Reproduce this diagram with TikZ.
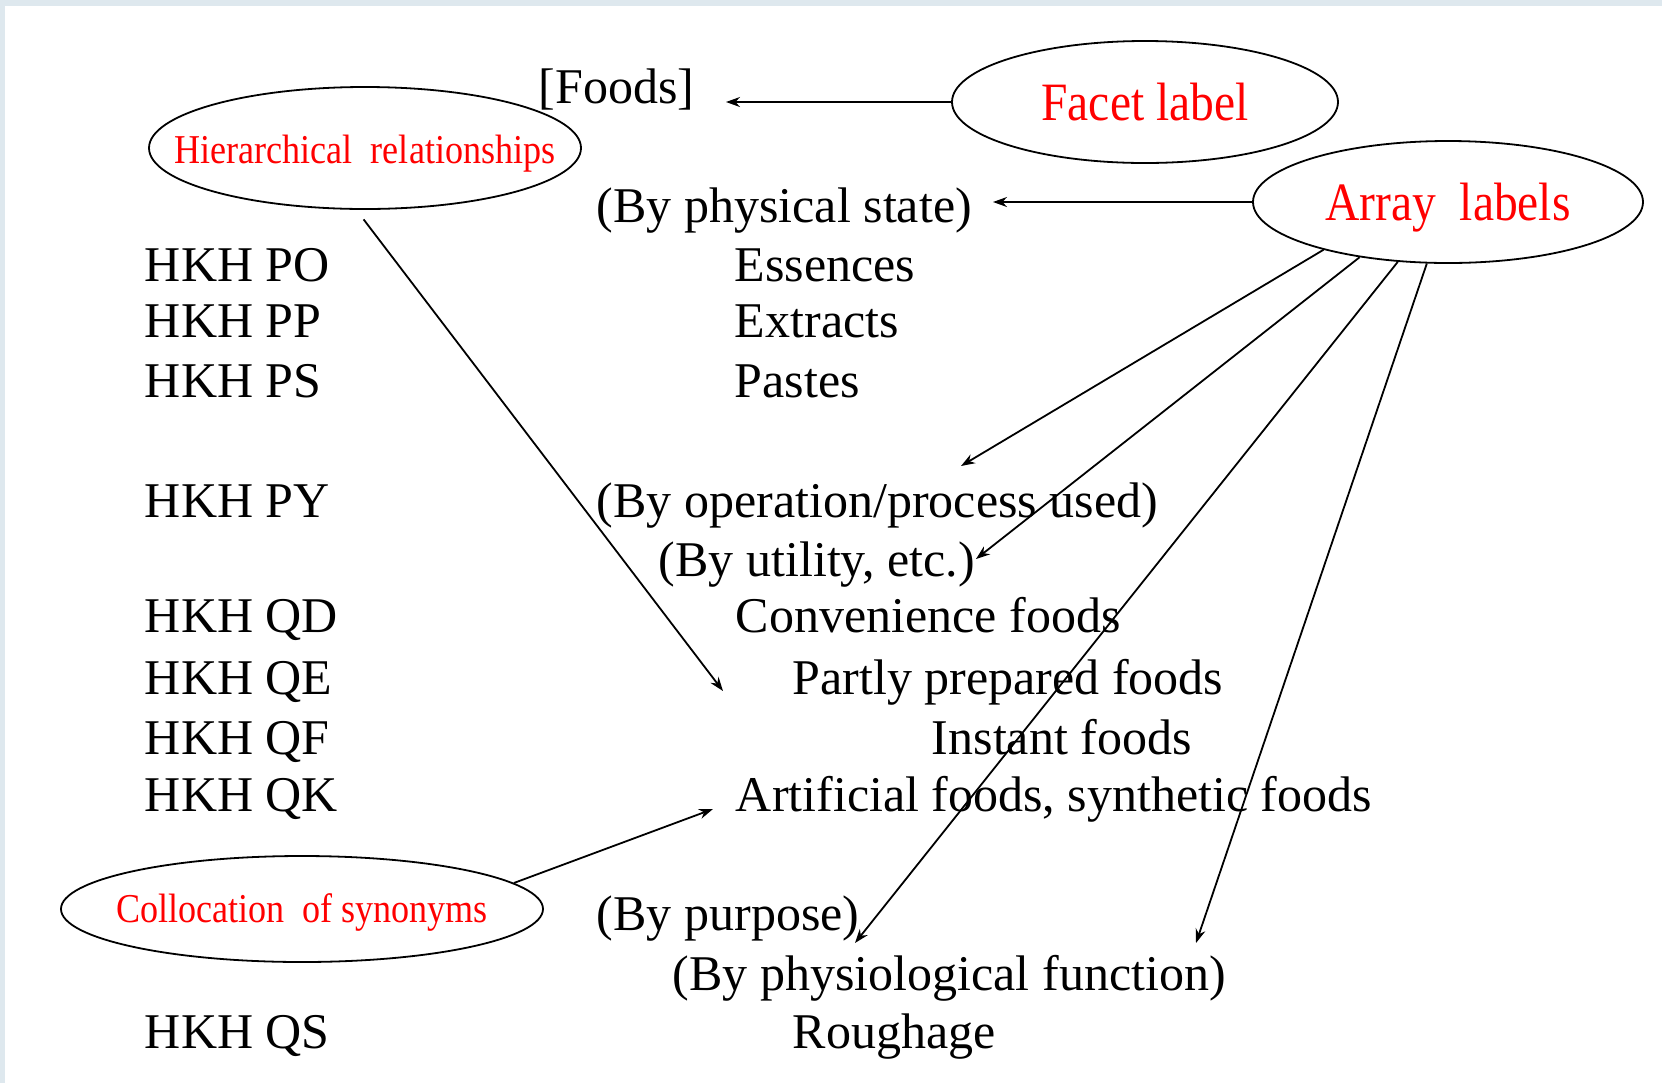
\documentclass[tikz,border=0pt]{standalone}
\usepackage{fontspec}
\setmainfont{Liberation Serif}
\newfontfamily\narrowserif[FakeStretch=0.88]{Liberation Serif}
\usetikzlibrary{shapes.geometric,arrows.meta}
\definecolor{framegray}{RGB}{222,232,238}

\begin{document}
\begin{tikzpicture}[x=0.5pt, y=-0.5pt, line width=0.9pt,
  txt/.style={anchor=base west, inner sep=0pt, font=\fontsize{25}{30}\selectfont},
  tag/.style={draw, ellipse, inner sep=0pt},
  lbl/.style={text=red, inner sep=0pt},
  arr/.style={-{Stealth[length=7pt, width=5pt]}}]
\useasboundingbox (0, 0) rectangle (1662, 1083);
\fill[framegray] (0, 0) rectangle (1662, 1083);
\fill[white] (5, 6) rectangle (1662, 1083);
%Labels
\node[tag, minimum width=193pt, minimum height=61pt, label={[lbl, font=\narrowserif\fontsize{27}{30}\selectfont]center:Facet label}] (facet) at (1145, 102) {};
\node[tag, minimum width=195pt, minimum height=61pt, label={[lbl, yshift=-3pt, font=\narrowserif\fontsize{27}{30}\selectfont]center:Array~ labels}] (array) at (1448, 202) {};
\node[tag, minimum width=216pt, minimum height=61pt, label={[lbl, yshift=-3pt, font=\narrowserif\fontsize{20.5}{24}\selectfont]center:Hierarchical~ relationships}] (hier) at (365, 148) {};
\node[tag, minimum width=241pt, minimum height=53pt, label={[lbl, yshift=-1.5pt, font=\narrowserif\fontsize{20.5}{24}\selectfont]center:Collocation~ of synonyms}] (colloc) at (302, 909) {};
%Notation
\node[txt] (po) at (144, 281) {HKH PO};
\node[txt] (pp) at (144, 337) {HKH PP};
\node[txt] (ps) at (144, 397) {HKH PS};
\node[txt] (py) at (144, 517) {HKH PY};
\node[txt] (qd) at (144, 632) {HKH QD};
\node[txt] (qe) at (144, 694) {HKH QE};
\node[txt] (qf) at (144, 754) {HKH QF};
\node[txt] (qk) at (144, 811) {HKH QK};
\node[txt] (qs) at (144, 1048) {HKH QS};
%Terms
\node[txt] (foods) at (538, 103) {[Foods]};
\node[txt] (physical) at (596, 222) {(By physical state)};
\node[txt] (essences) at (734, 281) {Essences};
\node[txt] (extracts) at (734, 337) {Extracts};
\node[txt] (pastes) at (734, 397) {Pastes};
\node[txt] (operation) at (596, 517) {(By operation/process used)};
\node[txt] (utility) at (658, 576) {(By utility, etc.)};
\node[txt] (convenience) at (735, 632) {Convenience foods};
\node[txt] (partly) at (792, 694) {Partly prepared foods};
\node[txt] (instant) at (931, 754) {Instant foods};
\node[txt] (artificial) at (735, 811) {Artificial foods, synthetic foods};
\node[txt] (purpose) at (596, 930) {(By purpose)};
\node[txt] (physiological) at (672, 990) {(By physiological function)};
\node[txt] (roughage) at (792, 1048) {Roughage};
%Arrows
\coordinate (foodsTip) at (726, 102);
\coordinate (physicalTip) at (993, 202);
\coordinate (hierTip) at (723, 691);
\coordinate (collocTip) at (713, 809);
\coordinate (operationTip) at (961, 466);
\coordinate (utilityTip) at (976, 559);
\coordinate (purposeTip) at (855, 943);
\coordinate (functionTip) at (1196, 943);
\draw[arr] (facet.west) -- (foodsTip);
\draw[arr] (array.west) -- (physicalTip);
\draw[arr, shorten <=6pt] (hier.262) -- (hierTip);
\draw[arr] (colloc.7) -- (collocTip);
\draw[arr] (array.201) -- (operationTip);
\draw[arr] (array.212) -- (utilityTip);
\draw[arr] (array.230) -- (purposeTip);
\draw[arr] (array.251) -- (functionTip);
\end{tikzpicture}
\end{document}
